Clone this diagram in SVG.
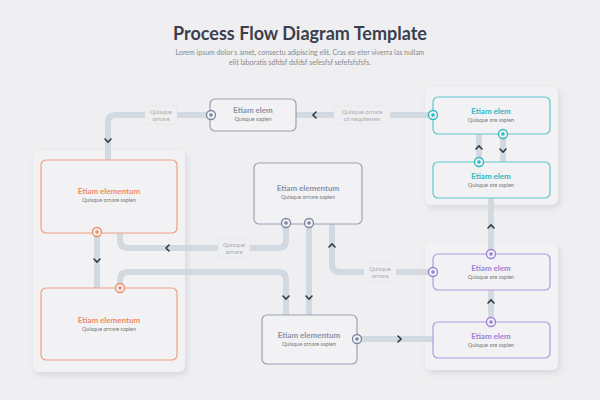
<svg xmlns="http://www.w3.org/2000/svg" width="600" height="400" viewBox="0 0 600 400">
<defs>
<filter id="sh" x="-10%" y="-10%" width="120%" height="120%"><feDropShadow dx="2" dy="3" stdDeviation="3" flood-color="#b8bcc4" flood-opacity="0.45"/></filter>
</defs>
<style>
text{font-family:"Lato","Liberation Sans",sans-serif;text-anchor:middle}
.pipe{fill:none;stroke:#d3d9e1;stroke-width:6;stroke-linejoin:round}
.panel{fill:#f2f2f4;filter:url(#sh)}
.box{fill:#f2f2f4;stroke-width:1.2}
.t{font-size:8px;font-weight:bold}
.s{font-size:5.5px;fill:#777}
.lbl{font-size:6px;fill:#aaa}
.lb{fill:#efeff1;stroke:#e2e4e8;stroke-width:0.6}
.chev{fill:none;stroke:#333a45;stroke-width:1.6;stroke-linecap:round}
.dot{fill:#f2f2f4;stroke-width:1.3}
</style>
<rect width="600" height="400" fill="#efeff1"/>
<text x="300" y="40" style="font-size:18px;font-weight:bold;fill:#3b404c">Process Flow Diagram Template</text>
<text x="300" y="55" style="font-size:7px;fill:#888">Lorem ipsum dolor s amet, consectu adipiscing elit. Cras eo eter viverra las nullam</text>
<text x="300" y="65" style="font-size:7px;fill:#888">elit laboratis sdfdsf dsfdsf sefesfsf sefefsfsfsfs.</text>
<rect class="panel" x="33" y="150" width="152" height="222" rx="6"/>
<rect class="panel" x="425" y="87" width="133" height="118" rx="6"/>
<rect class="panel" x="425" y="243" width="133" height="127" rx="6"/>
<g id="connectors">
<path class="pipe" d="M211 115H116Q108 115 108 123V160"/>
<path class="pipe" d="M433 115H296"/>
<path class="pipe" d="M479 134V162M503 134V162"/>
<path class="pipe" d="M491 198V254M491 290V322"/>
<path class="pipe" d="M97 233V288"/>
<path class="pipe" d="M286 223V240Q286 248 278 248H128Q120 248 120 240V233"/>
<path class="pipe" d="M120 288V280Q120 272 128 272H278Q286 272 286 280V315"/>
<path class="pipe" d="M309 223V315"/>
<path class="pipe" d="M433 272H340Q332 272 332 264V224"/>
<path class="pipe" d="M357 339H433"/>
<rect class="lb" x="145" y="106" width="32" height="18"/>
<text class="lbl" x="161" y="114">Quisque</text><text class="lbl" x="161" y="121">ornare</text>
<rect class="lb" x="334" y="106" width="56" height="18"/>
<text class="lbl" x="362" y="114">Quisque ornare</text><text class="lbl" x="362" y="121">ut nequtemes</text>
<rect class="lb" x="218" y="239" width="32" height="18"/>
<text class="lbl" x="234" y="247">Quisque</text><text class="lbl" x="234" y="254">ornare</text>
<rect class="lb" x="364" y="263" width="32" height="18"/>
<text class="lbl" x="380" y="271">Quisque</text><text class="lbl" x="380" y="278">ornare</text>
<path class="chev" d="M105 139L108 142L111 139M94 259L97 262L100 259M283 296L286 299L289 296M306 296L309 299L312 296M500 149L503 152L506 149"/>
<path class="chev" d="M476 149L479 146L482 149M488 228L491 225L494 228M488 303L491 300L494 303M329 247L332 244L335 247"/>
<path class="chev" d="M316 112L313 115L316 118M169 245L166 248L169 251M398 336L401 339L398 342"/>
</g>
<g id="n1"><rect class="box" x="41" y="160" width="136" height="73" rx="5" stroke="#f0a080"/>
<text class="t" x="109" y="194" fill="#f08a60">Etiam elementum</text><text class="s" x="109" y="202">Quisque ornare sapien</text>
<circle class="dot" cx="97" cy="232" r="4.5" stroke="#f08a60"/><circle cx="97" cy="232" r="1.8" fill="#f08a60"/></g>
<g id="n2"><rect class="box" x="41" y="288" width="136" height="72" rx="5" stroke="#f0a080"/>
<text class="t" x="109" y="323" fill="#f08a60">Etiam elementum</text><text class="s" x="109" y="331">Quisque ornare sapien</text>
<circle class="dot" cx="120" cy="288" r="4.5" stroke="#f08a60"/><circle cx="120" cy="288" r="1.8" fill="#f08a60"/></g>
<g id="n3"><rect class="box" x="210" y="99" width="86" height="32" rx="5" stroke="#9aa2b5"/>
<text class="t" x="253" y="113" fill="#8890a8">Etiam elem</text><text class="s" x="253" y="121">Quisque sapien</text>
<circle class="dot" cx="211" cy="115" r="4.5" stroke="#7c85a0"/><circle cx="211" cy="115" r="1.8" fill="#7c85a0"/></g>
<g id="n4"><rect class="box" x="254" y="163" width="108" height="61" rx="5" stroke="#9aa2b5"/>
<text class="t" x="308" y="191" fill="#8890a8">Etiam elementum</text><text class="s" x="308" y="199">Quisque ornare sapien</text>
<circle class="dot" cx="286" cy="223" r="4.5" stroke="#7c85a0"/><circle cx="286" cy="223" r="1.8" fill="#7c85a0"/>
<circle class="dot" cx="309" cy="223" r="4.5" stroke="#7c85a0"/><circle cx="309" cy="223" r="1.8" fill="#7c85a0"/></g>
<g id="n5"><rect class="box" x="262" y="315" width="95" height="49" rx="5" stroke="#9aa2b5"/>
<text class="t" x="309" y="338" fill="#8890a8">Etiam elementum</text><text class="s" x="309" y="346">Quisque ornare sapien</text>
<circle class="dot" cx="357" cy="339" r="4.5" stroke="#7c85a0"/><circle cx="357" cy="339" r="1.8" fill="#7c85a0"/></g>
<g id="n6"><rect class="box" x="433" y="97" width="117" height="37" rx="5" stroke="#5cc8cc"/>
<text class="t" x="491" y="114" fill="#2cb8c0">Etiam elem</text><text class="s" x="491" y="122">Quisque ore sapien</text>
<circle class="dot" cx="433" cy="115" r="4.5" stroke="#2cb8c0"/><circle cx="433" cy="115" r="1.8" fill="#2cb8c0"/>
<circle class="dot" cx="503" cy="134" r="4.5" stroke="#2cb8c0"/><circle cx="503" cy="134" r="1.8" fill="#2cb8c0"/></g>
<g id="n7"><rect class="box" x="433" y="162" width="117" height="36" rx="5" stroke="#5cc8cc"/>
<text class="t" x="491" y="179" fill="#2cb8c0">Etiam elem</text><text class="s" x="491" y="187">Quisque ore sapien</text>
<circle class="dot" cx="479" cy="162" r="4.5" stroke="#2cb8c0"/><circle cx="479" cy="162" r="1.8" fill="#2cb8c0"/></g>
<g id="n8"><rect class="box" x="433" y="254" width="117" height="36" rx="5" stroke="#b09ae0"/>
<text class="t" x="491" y="271" fill="#9a80d8">Etiam elem</text><text class="s" x="491" y="279">Quisque ore sapien</text>
<circle class="dot" cx="491" cy="254" r="4.5" stroke="#9a80d8"/><circle cx="491" cy="254" r="1.8" fill="#9a80d8"/>
<circle class="dot" cx="433" cy="272" r="4.5" stroke="#9a80d8"/><circle cx="433" cy="272" r="1.8" fill="#9a80d8"/></g>
<g id="n9"><rect class="box" x="433" y="322" width="117" height="36" rx="5" stroke="#b09ae0"/>
<text class="t" x="491" y="339" fill="#9a80d8">Etiam elem</text><text class="s" x="491" y="347">Quisque ore sapien</text>
<circle class="dot" cx="491" cy="322" r="4.5" stroke="#9a80d8"/><circle cx="491" cy="322" r="1.8" fill="#9a80d8"/></g>
</svg>
